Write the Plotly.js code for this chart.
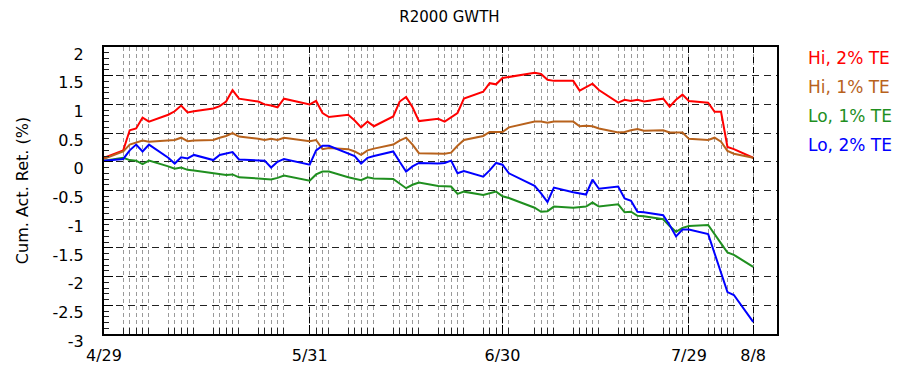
<!DOCTYPE html>
<html>
<head>
<meta charset="utf-8">
<script src="https://cdn.plot.ly/plotly-3.0.1.min.js"></script>
<style>html,body{margin:0;padding:0;background:#fff;}#chart{width:899px;height:370px;}</style>
</head>
<body>
<div id="chart"></div>
<script>
// Business days, 2011-04-29 .. 2011-08-08
const dates = [
 '2011-04-29',
 '2011-05-02','2011-05-03','2011-05-04','2011-05-05','2011-05-06',
 '2011-05-09','2011-05-10','2011-05-11','2011-05-12','2011-05-13',
 '2011-05-16','2011-05-17','2011-05-18','2011-05-19','2011-05-20',
 '2011-05-23','2011-05-24','2011-05-25','2011-05-26','2011-05-27',
 '2011-05-31','2011-06-01','2011-06-02','2011-06-03',
 '2011-06-06','2011-06-07','2011-06-08','2011-06-09','2011-06-10',
 '2011-06-13','2011-06-14','2011-06-15','2011-06-16','2011-06-17',
 '2011-06-20','2011-06-21','2011-06-22','2011-06-23','2011-06-24',
 '2011-06-27','2011-06-28','2011-06-29','2011-06-30','2011-07-01',
 '2011-07-05','2011-07-06','2011-07-07','2011-07-08',
 '2011-07-11','2011-07-12','2011-07-13','2011-07-14','2011-07-15',
 '2011-07-18','2011-07-19','2011-07-20','2011-07-21','2011-07-22',
 '2011-07-25','2011-07-26','2011-07-27','2011-07-28','2011-07-29',
 '2011-08-01','2011-08-02','2011-08-03','2011-08-04','2011-08-05',
 '2011-08-08'
];

const hi2 = [
 0.07,
 0.20,0.55,0.58,0.77,0.70,
 0.82,0.88,0.98,0.86,0.88,
 0.93,0.97,1.05,1.25,1.10,
 1.05,1.00,0.98,0.95,1.10,
 1.00,1.06,0.85,0.78,
 0.82,0.72,0.60,0.70,0.62,
 0.79,1.05,1.13,0.95,0.71,
 0.75,0.70,0.78,0.85,1.10,
 1.22,1.37,1.35,1.46,1.48,
 1.55,1.53,1.43,1.41,
 1.41,1.24,1.30,1.36,1.25,
 1.03,1.08,1.06,1.08,1.05,
 1.10,0.96,1.08,1.17,1.06,
 1.03,0.87,0.87,0.26,0.22,
 0.07
];

const hi1 = [
 0.05,
 0.18,0.30,0.33,0.37,0.35,
 0.37,0.38,0.42,0.36,0.37,
 0.38,0.42,0.45,0.50,0.44,
 0.40,0.38,0.40,0.38,0.42,
 0.36,0.38,0.22,0.24,
 0.22,0.18,0.12,0.20,0.23,
 0.30,0.37,0.42,0.30,0.15,
 0.14,0.14,0.16,0.28,0.38,
 0.45,0.52,0.52,0.52,0.60,
 0.70,0.70,0.68,0.70,
 0.70,0.62,0.63,0.62,0.58,
 0.51,0.52,0.55,0.57,0.54,
 0.55,0.51,0.51,0.51,0.40,
 0.38,0.42,0.35,0.19,0.14,
 0.07
];

const lo1 = [
 0.02,
 0.07,0.03,0.02,-0.04,0.02,
 -0.08,-0.12,-0.10,-0.14,-0.15,
 -0.20,-0.22,-0.23,-0.22,-0.27,
 -0.29,-0.30,-0.31,-0.28,-0.24,
 -0.33,-0.22,-0.17,-0.17,
 -0.27,-0.30,-0.32,-0.27,-0.29,
 -0.30,-0.38,-0.46,-0.40,-0.36,
 -0.42,-0.43,-0.43,-0.56,-0.52,
 -0.58,-0.55,-0.52,-0.60,-0.63,
 -0.80,-0.87,-0.86,-0.78,
 -0.80,-0.79,-0.78,-0.71,-0.78,
 -0.74,-0.88,-0.87,-0.94,-0.95,
 -1.00,-1.12,-1.22,-1.15,-1.12,
 -1.10,-1.27,-1.42,-1.58,-1.62,
 -1.83
];

const lo2 = [
 0.02,
 0.05,0.20,0.30,0.18,0.30,
 0.07,-0.03,0.08,0.06,0.12,
 0.03,0.12,0.14,0.17,0.04,
 0.03,0.02,-0.10,0.00,0.05,
 -0.05,0.20,0.28,0.28,
 0.14,0.10,-0.03,0.07,0.10,
 0.18,0.00,-0.17,-0.08,-0.02,
 -0.03,-0.02,0.02,-0.20,-0.16,
 -0.26,-0.15,-0.02,-0.05,-0.20,
 -0.42,-0.55,-0.70,-0.45,
 -0.53,-0.55,-0.57,-0.31,-0.47,
 -0.43,-0.64,-0.68,-0.87,-0.88,
 -0.93,-1.10,-1.30,-1.18,-1.18,
 -1.26,-1.60,-1.95,-2.27,-2.32,
 -2.79
];

const seriesNames = ['Hi, 2% TE', 'Hi, 1% TE', 'Lo, 1% TE', 'Lo, 2% TE'];
const seriesValues = [hi2, hi1, lo1, lo2];

const xTickVals = ['2011-04-29', '2011-05-31', '2011-06-30', '2011-07-29', '2011-08-08'];
const xTickText = ['4/29', '5/31', '6/30', '7/29', '8/8'];
const yTickVals = [-3, -2.5, -2, -1.5, -1, -0.5, 0, 0.5, 1, 1.5, 2];

const chartTitle = 'R2000 GWTH';
const yTitle = 'Cum. Act. Ret. (%)';

// styles
const colors = ['#ff0000', '#b8621c', '#1f8f1f', '#0000ff'];
const legendY = [0.962, 0.862, 0.758, 0.657];

const traces = seriesValues.map((vals, i) => ({
  type: 'scatter',
  mode: 'lines',
  x: dates,
  y: vals,
  name: seriesNames[i],
  line: {color: colors[i], width: 2}
}));

const annotations = seriesNames.map((n, i) => ({
  text: n,
  xref: 'paper', yref: 'paper',
  x: 1.043, y: legendY[i],
  xanchor: 'left', yanchor: 'middle',
  showarrow: false,
  font: {size: 17, color: colors[i]}
}));

const layout = {
  width: 899, height: 370,
  margin: {l: 104, r: 122, t: 47, b: 36},
  paper_bgcolor: '#fff', plot_bgcolor: '#fff',
  showlegend: false,
  font: {family: 'DejaVu Sans, sans-serif', size: 16, color: '#000'},
  title: {text: chartTitle, x: 0.5, xref: 'container', xanchor: 'center',
          y: 0.954, yref: 'container', yanchor: 'middle', font: {size: 15, color: '#000'}},
  xaxis: {
    type: 'date',
    range: ['2011-04-29', '2011-08-11 17:00'],
    tickmode: 'array', tickvals: xTickVals, ticktext: xTickText,
    ticks: 'inside', ticklen: 9, tickcolor: '#000', tickwidth: 1,
    showgrid: true, gridcolor: '#000', gridwidth: 1, griddash: '6px,4px',
    showline: true, linecolor: '#000', linewidth: 2, mirror: true,
    zeroline: false,
    ticklabelstandoff: 6,
    tickfont: {size: 16},
    minor: {tickvals: dates, ticks: 'inside', ticklen: 6, tickcolor: '#222', tickwidth: 1,
            showgrid: true, gridcolor: '#9a9a9a', gridwidth: 1, griddash: '4px,3px'}
  },
  yaxis: {
    range: [-3, 2],
    tickmode: 'array', tickvals: yTickVals, ticktext: yTickVals.map(v => String(v)),
    ticks: 'inside', ticklen: 9, tickcolor: '#000', tickwidth: 1,
    showgrid: true, gridcolor: '#222', gridwidth: 1, griddash: '7px,5px',
    showline: true, linecolor: '#000', linewidth: 2, mirror: true,
    zeroline: false,
    ticklabelshift: 7,
    ticklabelstandoff: 15,
    tickfont: {size: 16},
    minor: {dtick: 0.1, tick0: 0, ticks: 'inside', ticklen: 5, tickcolor: '#222', tickwidth: 1, showgrid: false},
    title: {text: yTitle, standoff: 20, font: {size: 16}}
  },
  annotations: annotations
};

Plotly.newPlot('chart', traces, layout, {displayModeBar: false, staticPlot: true});
</script>
</body>
</html>
